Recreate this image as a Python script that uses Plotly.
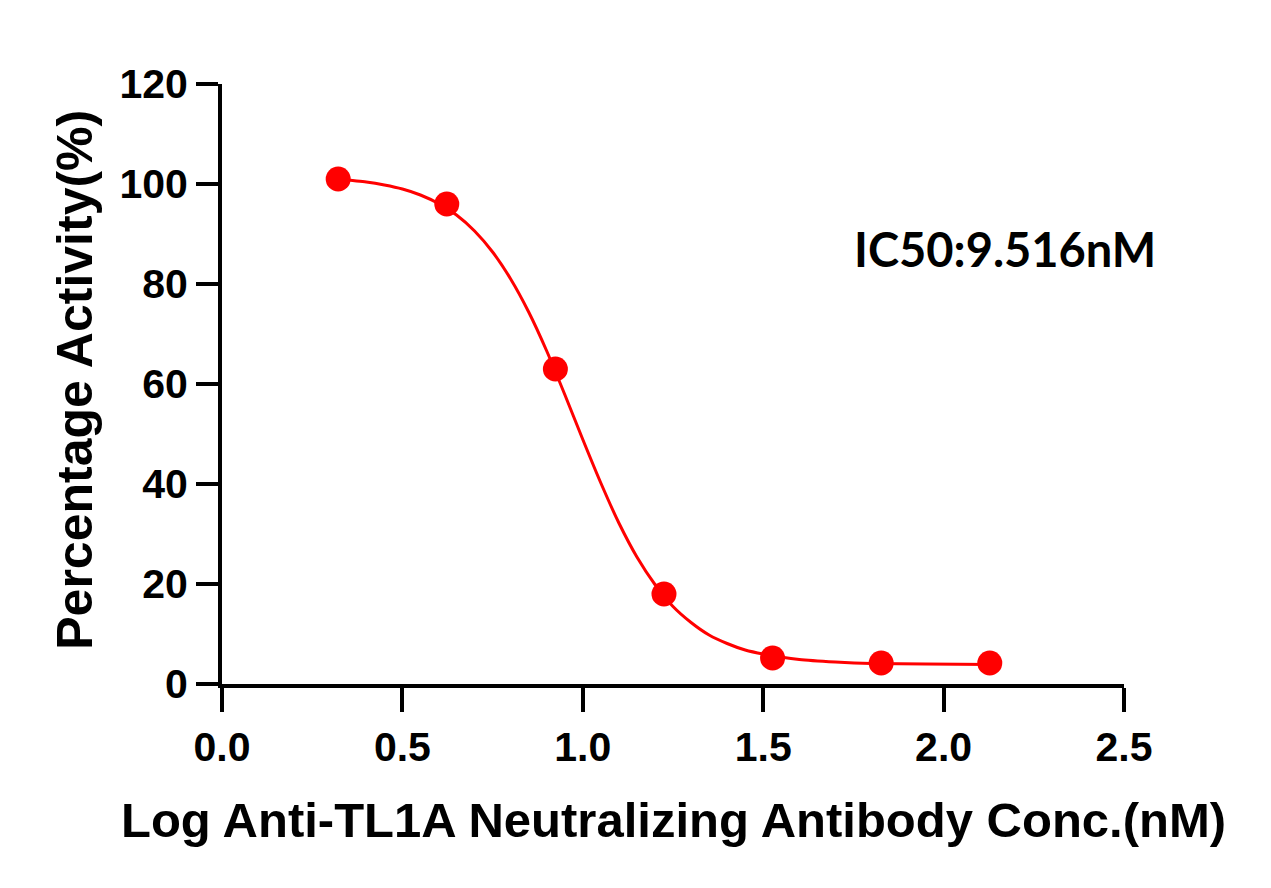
import plotly.graph_objects as go

# Measured data points
log_conc = [0.322, 0.623, 0.924, 1.225, 1.526, 1.827, 2.128]
activity = [101.0, 96.0, 63.0, 18.0, 5.2, 4.2, 4.2]

# Fitted curve
curve_x = [0.32, 0.40, 0.45, 0.50, 0.55, 0.60, 0.65, 0.70, 0.75, 0.80,
           0.85, 0.90, 0.95, 1.00, 1.05, 1.10, 1.15, 1.20, 1.25, 1.30,
           1.35, 1.40, 1.45, 1.50, 1.60, 1.70, 1.80, 1.95, 2.13]
curve_y = [101.0, 100.4, 99.8, 99.0, 97.8, 96.1, 93.8, 90.6, 86.4, 81.0,
           74.4, 66.6, 57.9, 48.9, 40.2, 32.2, 25.4, 19.9, 15.5, 12.3,
           9.8, 8.1, 6.8, 6.0, 4.9, 4.4, 4.1, 4.0, 3.9]

x_ticks = [0.0, 0.5, 1.0, 1.5, 2.0, 2.5]
x_ticklabels = ["0.0", "0.5", "1.0", "1.5", "2.0", "2.5"]
y_ticks = [0, 20, 40, 60, 80, 100, 120]

RED = "#FF0000"
FONT = "Liberation Sans, Arial, sans-serif"

fig = go.Figure()
fig.add_trace(go.Scatter(x=curve_x, y=curve_y, mode="lines",
                         line=dict(color=RED, width=3, shape="spline", smoothing=0.6),
                         hoverinfo="skip", showlegend=False))
fig.add_trace(go.Scatter(x=log_conc, y=activity, mode="markers",
                         marker=dict(color=RED, size=25, line=dict(width=0)),
                         showlegend=False))

fig.update_layout(
    width=1271, height=888,
    margin=dict(l=214, r=155, t=76, b=212),
    paper_bgcolor="white", plot_bgcolor="white",
    font=dict(family=FONT, color="black"),
    xaxis=dict(range=[0, 2.5], tickvals=x_ticks, ticktext=x_ticklabels,
               showline=True, linecolor="black", linewidth=4,
               ticks="outside", ticklen=24, tickwidth=4, tickcolor="black",
               showgrid=False, zeroline=False,
               tickfont=dict(family=FONT, size=41, color="black", weight="bold"),
               ticklabelstandoff=0),
    yaxis=dict(range=[0, 120], tickvals=y_ticks,
               showline=True, linecolor="black", linewidth=4,
               ticks="outside", ticklen=22, tickwidth=4, tickcolor="black",
               showgrid=False, zeroline=False,
               tickfont=dict(family=FONT, size=41, color="black", weight="bold"),
               ticklabelstandoff=0),
    annotations=[
        dict(text="<b>Log Anti-TL1A Neutralizing Antibody Conc.(nM)</b>",
             xref="paper", yref="paper", x=0.5, y=-0.2267,
             xanchor="center", yanchor="middle", showarrow=False,
             font=dict(family=FONT, size=49, color="black")),
        dict(text="<b>Percentage Activity(%)</b>",
             xref="paper", yref="paper", x=-0.163, y=0.507,
             xanchor="center", yanchor="middle", showarrow=False, textangle=-90,
             font=dict(family=FONT, size=50, color="black")),
        dict(text="<b>IC50:9.516nM</b>",
             xref="paper", yref="paper", x=0.868, y=0.725,
             xanchor="center", yanchor="middle", showarrow=False,
             font=dict(family="Lato, Open Sans, sans-serif", size=47, color="black")),
    ],
)

fig.write_html("out.html")
